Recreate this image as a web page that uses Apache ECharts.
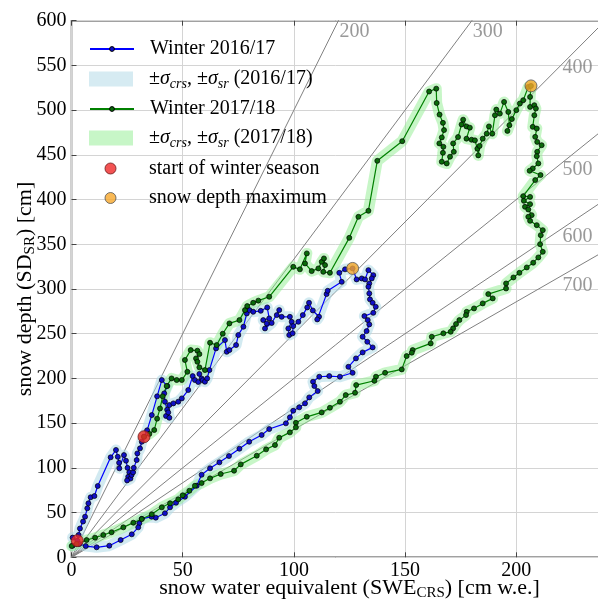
<!DOCTYPE html>
<html>
<head>
<meta charset="utf-8">
<script src="https://cdn.jsdelivr.net/npm/echarts@6.0.0/dist/echarts.min.js"></script>
<style>
html, body { margin: 0; padding: 0; background: #fff; }
#chart { width: 598px; height: 600px; }
</style>
</head>
<body>
<div id="chart"></div>
<script>
// winter 2016/17: [SWE cm w.e., snow depth cm]
const winter1617 = [
    [0.5, 22], [2.6, 18.6], [3.2, 25], [3.8, 32.2], [5.2, 40], [6.1, 45.4], [7.1, 54.8], [7.6, 60.4],
    [8.6, 67.1], [10.3, 68.5], [11.8, 79.7], [17.6, 111.8], [20, 120], [20.8, 112.4], [21.4, 105.7],
    [21.5, 99.5], [23.6, 114.3], [24.5, 108], [25.2, 100], [26, 95], [25.5, 90], [26.5, 88], [25, 86],
    [27, 92], [27.7, 95], [28, 100], [29.3, 108.7], [29.6, 116.2], [30.8, 121.8], [31.6, 129.2],
    [32.6, 134.8], [34, 142], [36.1, 159], [38.5, 180], [40.6, 198.2], [43.1, 191.5], [41.7, 183.3],
    [42, 174], [43, 165], [42.5, 158], [44, 156], [43.5, 162], [44, 170.2], [45.8, 172.1], [48, 174],
    [49.6, 177.7], [52.5, 187], [54.5, 202.6], [55.5, 198.2], [57, 196], [58.5, 200], [57.5, 205],
    [59, 198], [60, 196.3], [61, 200], [62, 209.3], [65, 233.6], [69, 242.9], [69.8, 229.8], [71, 231.7],
    [74, 237.3], [75, 248.5], [77.3, 257.8], [78.8, 272.7], [80, 276.4], [81.7, 274.5], [85.1, 275.6],
    [88, 279.4], [88.9, 267.1], [86.2, 265.2], [87.8, 261.5], [87, 255.9], [90, 262], [93.4, 276.4],
    [92.3, 270.8], [94.5, 268.9], [98.2, 268.9], [99, 263.3], [97.5, 255.9], [97.9, 248.5], [99.4, 250.4],
    [99.7, 258.5], [102, 263.3], [104, 270.8], [106, 279.4], [106.8, 284.6], [108.5, 276], [111.3, 269],
    [110.5, 266], [114.7, 294.3], [115.2, 298], [121.5, 308], [120.4, 318.1], [123, 322], [126.4, 323],
    [128.2, 310.7], [130.5, 311.8], [132, 310.7], [133.5, 321.1], [135.7, 315.5], [135, 311.8],
    [133.9, 306.2], [133.5, 302.5], [133.9, 295.1], [134.2, 288.4], [135.4, 284.6], [136.8, 280.1],
    [135.7, 273.4], [131.7, 269.7], [133.2, 265.2], [133.9, 260.4], [132.7, 252.9], [130.9, 246.6],
    [133, 241], [135.4, 234.7], [130.9, 229.1], [127.9, 222.4], [124.5, 213], [126.4, 206.3],
    [120.7, 201.9], [115.9, 202.6], [111.4, 201.9], [108.6, 196.3], [109.2, 191.5], [110.7, 185.9],
    [106.9, 178.8], [105, 172.1], [102.4, 167.7], [99.7, 163.9], [98.2, 156.5], [96.4, 149.8],
    [88.9, 143.4], [85.5, 136.7], [79.9, 129.2], [75.5, 121.4], [70.8, 113.2], [66.5, 106.2],
    [62.3, 99.5], [58.5, 92.3], [56.3, 80], [51, 67.7], [47, 61], [44.3, 55.9], [42, 49.2], [37.9, 44.3],
    [36, 45.4], [31.6, 43], [30.5, 38], [30, 33.5], [27.1, 25.7], [22.1, 19.3], [17, 13], [11.3, 11.2],
    [6.4, 12.6], [3.5, 14.9], [0.5, 13]
]

// winter 2017/18
const winter1718 = [
    [32.6, 134.8], [35, 138], [37.2, 142.3], [38.5, 155], [39.8, 166.4], [41, 180], [42.8, 191.5],
    [45, 200], [47.3, 198.2], [49.6, 198.2], [52.1, 207.4], [51, 220.6], [53.6, 231.7], [56.6, 231],
    [57.5, 227.2], [56, 222.4], [56.6, 218.6], [57.5, 212.4], [60, 209.3], [62.3, 239.9], [65.3, 237.3],
    [68, 250], [71, 261.5], [75.5, 265.2], [78, 276.4], [79, 280.9], [81.7, 284.6], [84, 287],
    [88.9, 291.3], [99.7, 324.8], [102.7, 322], [105.8, 339.8], [105, 328.6], [108, 320], [111, 323],
    [112.5, 330.4], [113.5, 334.2], [114, 326.7], [113.2, 319.2], [116.2, 318.1], [124.9, 357.2],
    [129, 380.7], [133.5, 387.4], [137.5, 443.3], [148.7, 465.3], [160.8, 520.8], [164, 524],
    [164.2, 508], [165.5, 495], [167, 485.8], [167.5, 477.7], [166.5, 469.5], [165.4, 462.8],
    [167.2, 459], [167, 452.3], [166.5, 442.3], [168.7, 440.4], [170.2, 447.9], [171.9, 453.4],
    [171.6, 462.8], [173.8, 469.9], [175.4, 484], [176.1, 489.3], [177.6, 481.8], [179.1, 480.4],
    [177.6, 468.1], [179.9, 466.9], [181.4, 466.2], [182.5, 456.9], [182.9, 449.4], [183.5, 460],
    [184.9, 468.1], [186.7, 473.7], [187.7, 481.8], [189.2, 473.7], [190.4, 494.3], [191, 500.6],
    [192.6, 496.1], [194.5, 509.2], [196.4, 498], [196.9, 483.1], [196, 476.8], [198, 490], [200, 500],
    [201.6, 507.4], [203.1, 511.1], [205.4, 526], [206.6, 527.1], [206.2, 514.8], [206.2, 503.6],
    [208.1, 505.5], [208.8, 501.8], [208.1, 494.3], [207.4, 481.3], [209.2, 479.4], [208.5, 470.1],
    [209.4, 464.5], [211.4, 460.8], [209.4, 453.4], [209.2, 448.5], [209.9, 440.4], [207.4, 434.8],
    [206, 432.2], [210.9, 427.4], [208.5, 421.8], [203.1, 403.8], [206.2, 403], [203.4, 398.6],
    [206.2, 394.9], [203.9, 391.9], [205.4, 388.9], [206.9, 382.6], [205.4, 380.7], [206.2, 376.2],
    [209.2, 371.4], [211.9, 365.8], [211, 360.2], [210.7, 350.1], [211.9, 341.6], [209.9, 335.3],
    [207.6, 329.4], [204.7, 324.1], [201.4, 318.1], [198.7, 312.9], [195.4, 306.2], [195.4, 300.6],
    [187.4, 294.3], [189.4, 289.5], [184.9, 283.9], [181, 278.3], [177.7, 274.5], [177.4, 270.8],
    [174.4, 265.2], [172.9, 260.8], [171.6, 256], [170.5, 252.2], [167.2, 250.4], [162, 246.6],
    [161.5, 239.2], [153.4, 231.7], [153, 228.8], [150.7, 225], [148.5, 210.1], [141, 206.3],
    [136.9, 201.9], [136.2, 197.4], [128, 192.6], [127.5, 184], [123.3, 181.4], [120.7, 173.9],
    [116.2, 167.2], [112.5, 162], [105.8, 157.1], [100.9, 150.4], [100.9, 145.3], [98.2, 139.7],
    [93.4, 133.7], [91.5, 125.5], [87.5, 120.7], [83.3, 113.6], [76.1, 103.9], [73.1, 96.8],
    [67.1, 93.1], [62.3, 88.3], [58.5, 83], [55.5, 80], [53, 74.4], [50, 69.3], [48, 64.8], [44.3, 60.4],
    [40.6, 55.9], [36.1, 48.1], [31.6, 42.8], [27.8, 38.7], [23.3, 33.5], [18, 28], [14.3, 24.9],
    [10.6, 21.9], [6.8, 19.3], [2.3, 14.9], [0.1, 12.6]
]

const seasonStarts = [[2.6, 18.6], [32.6, 134.8]]
const depthMaxima = [[126.4, 323], [206.6, 527.1]]

// snow density isolines [kg/m3]
const densities = [200, 300, 400, 500, 600, 700]

const xTicks = { min: 0, max: 250, interval: 50 }
const yTicks = { min: 0, max: 600, interval: 50 }

const serif = 'Liberation Serif'
const band1617 = 'band 2016/17'
const band1718 = 'band 2017/18'

const rich = {
    p: { width: 11 },
    q: { width: 28 },
    t: { fontFamily: serif, fontSize: 20, lineHeight: 24, color: '#000' },
    g: { fontFamily: serif, fontSize: 20, lineHeight: 24, color: '#000', fontStyle: 'italic' },
    s: { fontFamily: serif, fontSize: 14, lineHeight: 12, color: '#000', fontStyle: 'italic', verticalAlign: 'bottom' }
}
const nameRich = {
    t: { fontFamily: serif, fontSize: 22, lineHeight: 24, color: '#000' },
    b: { fontFamily: serif, fontSize: 15, lineHeight: 12, color: '#000', verticalAlign: 'bottom' }
}

const sigmaText = year => '{p| }{t|±}{g|σ}{s|crs}{t|, ±}{g|σ}{s|sr}{t| (' + year + ')}'
const legendText = {
    'Winter 2016/17': '{p| }{t|Winter 2016/17}',
    'Winter 2017/18': '{p| }{t|Winter 2017/18}',
    [band1617]: sigmaText('2016/17'),
    [band1718]: sigmaText('2017/18'),
    'start of winter season': '{q| }{t|start of winter season}',
    'snow depth maximum': '{q| }{t|snow depth maximum}'
}

// one legend box per row so each icon can have its own size
const legendRows = [
    { name: 'Winter 2016/17', y: 51, h: 6, left: 89, w: 44 },
    { name: band1617, y: 81, h: 15, left: 89, w: 44, icon: 'rect', color: 'rgba(173,216,230,0.5)' },
    { name: 'Winter 2017/18', y: 111, h: 6, left: 89, w: 44 },
    { name: band1718, y: 140, h: 15, left: 89, w: 44, icon: 'rect', color: 'rgba(144,238,144,0.5)' },
    { name: 'start of winter season', y: 170.5, h: 11, left: 104.5, w: 11 },
    { name: 'snow depth maximum', y: 200, h: 11, left: 104.5, w: 11 }
]

const chart = echarts.init(document.getElementById('chart'))

const densitySeries = densities.map(rho => ({
    type: 'line',
    silent: true,
    symbol: 'none',
    z: 1,
    lineStyle: { color: '#808080', width: 1 },
    data: [[0, 0], [xTicks.max, xTicks.max * 1000 / rho]]
}))

// labels just past where each isoline leaves the visible area
const densityLabels = densities.map(rho => {
    const xTop = yTicks.max * rho / 1000
    if (xTop < 225) {
        return { value: [xTop, yTicks.max, rho], label: { offset: [16, 11] } }
    }
    return { value: [227.5, 227.5 * 1000 / rho, rho], label: { offset: [0, 19] } }
})

const bandStyle = color => ({ color: color, width: 11, cap: 'round', join: 'round' })

chart.setOption({
    animation: false,
    grid: {
        left: 71.5,
        top: 20.7,
        width: 556,
        height: 536.6,
        show: true,
        borderColor: '#444',
        borderWidth: 1.5,
        outerBoundsMode: 'none'
    },
    legend: legendRows.map(row => ({
        left: row.left,
        top: row.y - 12,
        padding: 0,
        orient: 'vertical',
        selectedMode: false,
        itemWidth: row.w,
        itemHeight: row.h,
        data: [row.icon ? {
            name: row.name,
            icon: row.icon,
            itemStyle: { color: row.color, borderWidth: 0 }
        } : { name: row.name, itemStyle: { borderWidth: 1 } }],
        formatter: name => legendText[name],
        textStyle: { rich: rich }
    })),
    xAxis: [{
        type: 'value',
        min: xTicks.min,
        max: xTicks.max,
        interval: xTicks.interval,
        name: '{t|snow water equivalent (SWE}{b|CRS}{t|) [cm w.e.]}',
        nameLocation: 'middle',
        nameGap: 19,
        nameMoveOverlap: false,
        nameTextStyle: { rich: nameRich },
        axisLine: { show: false },
        axisTick: { inside: true, length: 5, lineStyle: { color: '#444' } },
        axisLabel: { margin: 3, fontFamily: serif, fontSize: 20, color: '#000' },
        splitLine: { lineStyle: { color: '#d4d4d4', width: 1 } }
    }, {
        type: 'value',
        position: 'top',
        min: xTicks.min,
        max: xTicks.max,
        interval: xTicks.interval,
        axisLine: { show: false },
        axisTick: { inside: true, length: 5, lineStyle: { color: '#444' } },
        axisLabel: { show: false },
        splitLine: { show: false }
    }],
    yAxis: {
        type: 'value',
        min: yTicks.min,
        max: yTicks.max,
        interval: yTicks.interval,
        name: '{t|snow depth (SD}{b|SR}{t|) [cm]}',
        nameLocation: 'middle',
        nameGap: 34,
        nameMoveOverlap: false,
        nameTextStyle: { rich: nameRich },
        axisLine: { show: false },
        axisTick: { inside: true, length: 5, lineStyle: { color: '#444' } },
        axisLabel: { margin: 5, fontFamily: serif, fontSize: 20, color: '#000' },
        splitLine: { lineStyle: { color: '#d4d4d4', width: 1 } }
    },
    series: densitySeries.concat([{
        type: 'scatter',
        silent: true,
        symbolSize: 0,
        z: 1,
        data: densityLabels,
        label: {
            show: true,
            position: 'inside',
            formatter: p => p.value[2],
            fontFamily: serif,
            fontSize: 20,
            color: '#808080'
        }
    }, {
        name: band1617,
        type: 'line',
        silent: true,
        symbol: 'none',
        z: 2,
        itemStyle: { color: 'rgba(173,216,230,0.5)' },
        lineStyle: bandStyle('rgba(173,216,230,0.55)'),
        data: winter1617
    }, {
        name: band1718,
        type: 'line',
        silent: true,
        symbol: 'none',
        z: 2,
        itemStyle: { color: 'rgba(144,238,144,0.5)' },
        lineStyle: bandStyle('rgba(144,238,144,0.5)'),
        data: winter1718
    }, {
        name: 'Winter 2016/17',
        type: 'line',
        silent: true,
        symbol: 'circle',
        symbolSize: 5,
        z: 3,
        itemStyle: { color: '#1010c8', borderColor: '#000', borderWidth: 0.7 },
        lineStyle: { color: '#0000ff', width: 1.2 },
        data: winter1617
    }, {
        name: 'Winter 2017/18',
        type: 'line',
        silent: true,
        symbol: 'circle',
        symbolSize: 5,
        z: 3,
        itemStyle: { color: '#0a6a0a', borderColor: '#000', borderWidth: 0.7 },
        lineStyle: { color: '#008000', width: 1.2 },
        data: winter1718
    }, {
        name: 'start of winter season',
        type: 'scatter',
        silent: true,
        symbolSize: 12,
        z: 5,
        itemStyle: { color: '#f02828', borderColor: '#6a1a1a', borderWidth: 1 },
        data: seasonStarts
    }, {
        name: 'snow depth maximum',
        type: 'scatter',
        silent: true,
        symbolSize: 12,
        z: 5,
        itemStyle: { color: '#f7a82a', borderColor: '#555', borderWidth: 1 },
        data: depthMaxima
    }])
})
</script>
</body>
</html>
